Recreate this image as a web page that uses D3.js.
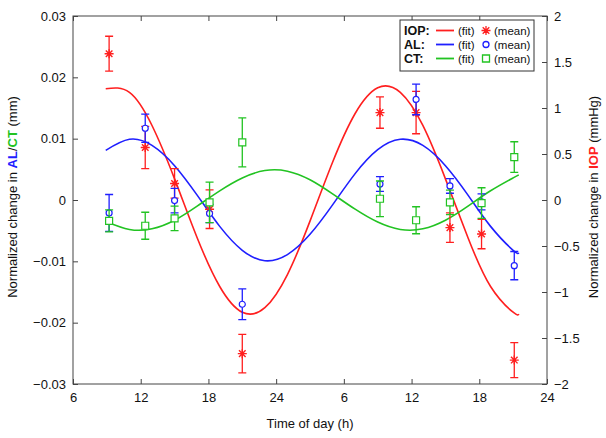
<!DOCTYPE html>
<html><head><meta charset="utf-8">
<script src="https://cdn.jsdelivr.net/npm/d3@7"></script>
<style>
html,body{margin:0;padding:0;background:#fff;}
text{font-family:Arial,"Liberation Sans",Helvetica,sans-serif;}
</style></head>
<body>
<svg id="chart" width="606" height="438"></svg>
<script>
// ---------- data ----------
const xTickValues = [6, 12, 18, 24, 30, 36, 42, 48];
const xTickLabels = ["6", "12", "18", "24", "6", "12", "18", "24"];
const leftTicks = [-0.03, -0.02, -0.01, 0, 0.01, 0.02, 0.03];
const rightTicks = [-2, -1.5, -1, -0.5, 0, 0.5, 1, 1.5, 2];

const hours = [9.2, 12.4, 15.0, 18.1, 21.0, 33.2, 36.4, 39.4, 42.2, 45.1];
const iopMean = [1.59, 0.57, 0.18, -0.10, -1.67, 0.95, 0.95, -0.30, -0.37, -1.74];
const iopErr  = [0.19, 0.23, 0.16, 0.21, 0.21, 0.17, 0.23, 0.16, 0.16, 0.19];
const alMean  = [-0.0021, 0.0117, -0.0001, -0.0022, -0.0170, 0.0026, 0.0164, 0.0023, -0.0003, -0.0107];
const alErr   = [0.0030, 0.0023, 0.0020, 0.0015, 0.0025, 0.0012, 0.0025, 0.0012, 0.0013, 0.0023];
const ctMean  = [-0.0034, -0.0042, -0.0030, -0.0004, 0.0094, 0.0002, -0.0033, -0.0004, -0.0005, 0.0070];
const ctErr   = [0.0018, 0.0022, 0.0020, 0.0033, 0.0040, 0.0029, 0.0022, 0.0020, 0.0025, 0.0025];

const fitHours = [8.9, 11, 13, 15, 17, 19, 21, 23, 25, 27, 29, 31, 33, 35, 37, 39, 41, 43, 45, 45.5];
const iopFit = [1.21, 1.17, 0.81, 0.23, -0.41, -0.94, -1.22, -1.17, -0.81, -0.23, 0.41, 0.94, 1.22, 1.17, 0.81, 0.23, -0.41, -0.94, -1.22, -1.24];
const alFit  = [0.0081, 0.0099, 0.0089, 0.0056, 0.0008, -0.0043, -0.0082, -0.0099, -0.0089, -0.0056, -0.0008, 0.0043, 0.0082, 0.0099, 0.0089, 0.0056, 0.0008, -0.0043, -0.0082, -0.0086];
const ctFit  = [-0.0035, -0.0048, -0.0047, -0.0033, -0.0010, 0.0015, 0.0036, 0.0048, 0.0047, 0.0033, 0.0010, -0.0015, -0.0036, -0.0048, -0.0047, -0.0033, -0.0010, 0.0015, 0.0036, 0.0041];

const seriesNames = ["IOP", "AL", "CT"];
const seriesColors = ["#ff1f1f", "#1f1fff", "#22c322"];
const seriesMarkers = ["asterisk", "circle", "square"];

// ---------- layout ----------
const L = 73, R = 547, T = 16, B = 384;
const svg = d3.select("#chart");
svg.append("rect").attr("width", 606).attr("height", 438).attr("fill", "#fff");

const x = d3.scaleLinear().domain([6, 48]).range([L, R]);
const yL = d3.scaleLinear().domain([-0.03, 0.03]).range([B, T]);
const yR = d3.scaleLinear().domain([-2, 2]).range([B, T]);

const axisColor = "#444";
const minusFmt = v => (v < 0 ? "\u2212" : "") + String(Math.abs(v));

// frame
svg.append("rect").attr("x", L).attr("y", T).attr("width", R - L).attr("height", B - T)
  .attr("fill", "none").attr("stroke", axisColor).attr("stroke-width", 1);

function styleAxis(g) {
  g.select(".domain").remove();
  g.selectAll(".tick line").attr("stroke", axisColor);
  g.selectAll(".tick text").attr("fill", "#111").style("font-size", "13px");
}

svg.append("g").attr("transform", `translate(0,${B})`)
  .call(d3.axisBottom(x).tickValues(xTickValues).tickSize(-5).tickPadding(9)
    .tickFormat((d, i) => xTickLabels[i]))
  .call(styleAxis);
svg.append("g").attr("transform", `translate(0,${T})`)
  .call(d3.axisTop(x).tickValues(xTickValues).tickSize(-5).tickFormat(""))
  .call(styleAxis);
svg.append("g").attr("transform", `translate(${L},0)`)
  .call(d3.axisLeft(yL).tickValues(leftTicks).tickSize(-5).tickPadding(7).tickFormat(minusFmt))
  .call(styleAxis);
svg.append("g").attr("transform", `translate(${R},0)`)
  .call(d3.axisRight(yR).tickValues(rightTicks).tickSize(-5).tickPadding(7).tickFormat(minusFmt))
  .call(styleAxis);

// axis titles
svg.append("text").attr("x", 310).attr("y", 428).attr("text-anchor", "middle")
  .style("font-size", "13px").attr("fill", "#111").text("Time of day (h)");

const lt = svg.append("text").attr("transform", "translate(16.5,197) rotate(-90)")
  .attr("text-anchor", "middle").style("font-size", "13px").attr("fill", "#111");
lt.append("tspan").text("Normalized change in ");
lt.append("tspan").attr("font-weight", "bold").attr("fill", seriesColors[1]).text("AL");
lt.append("tspan").text("/");
lt.append("tspan").attr("font-weight", "bold").attr("fill", seriesColors[2]).text("CT");
lt.append("tspan").text(" (mm)");

const rt = svg.append("text").attr("transform", "translate(597.5,197) rotate(-90)")
  .attr("text-anchor", "middle").style("font-size", "13px").attr("fill", "#111");
rt.append("tspan").text("Normalized change in ");
rt.append("tspan").attr("font-weight", "bold").attr("fill", seriesColors[0]).text("IOP");
rt.append("tspan").text(" (mmHg)");

// ---------- series ----------
const series = [
  {fit: iopFit, mean: iopMean, err: iopErr, y: yR},
  {fit: alFit, mean: alMean, err: alErr, y: yL},
  {fit: ctFit, mean: ctMean, err: ctErr, y: yL}
];

function markerPath(type, cx, cy) {
  if (type === "asterisk") {
    const s = 4.5, d = 3.3;
    return `M${cx - s},${cy}L${cx + s},${cy}M${cx},${cy - s}L${cx},${cy + s}` +
      `M${cx - d},${cy - d}L${cx + d},${cy + d}M${cx - d},${cy + d}L${cx + d},${cy - d}`;
  }
  if (type === "square") {
    const s = 3.5;
    return `M${cx - s},${cy - s}h${2 * s}v${2 * s}h${-2 * s}Z`;
  }
  const r = 3;
  return `M${cx + r},${cy}A${r},${r} 0 1,1 ${cx - r},${cy}A${r},${r} 0 1,1 ${cx + r},${cy}Z`;
}

series.forEach((s, k) => {
  const line = d3.line().x((d, i) => x(fitHours[i])).y(d => s.y(d)).curve(d3.curveNatural);
  svg.append("path").datum(s.fit).attr("d", line).attr("fill", "none")
    .attr("stroke", seriesColors[k]).attr("stroke-width", 1.6);
});

series.forEach((s, k) => {
  const g = svg.append("g").attr("stroke", seriesColors[k]).attr("fill", "none").attr("stroke-width", 1.3);
  hours.forEach((h, i) => {
    const cx = x(h), top = s.y(s.mean[i] + s.err[i]), bot = s.y(s.mean[i] - s.err[i]);
    g.append("path").attr("d", `M${cx},${top}V${bot}M${cx - 4},${top}H${cx + 4}M${cx - 4},${bot}H${cx + 4}`);
    g.append("path").attr("d", markerPath(seriesMarkers[k], cx, s.y(s.mean[i])))
      .attr("fill", "#fff").attr("stroke-width", seriesMarkers[k] === "asterisk" ? 1.4 : 1.2);
  });
});

// ---------- legend ----------
const lg = svg.append("g");
lg.append("rect").attr("x", 400).attr("y", 20).attr("width", 134).attr("height", 51)
  .attr("fill", "#fff").attr("stroke", "#333").attr("stroke-width", 1);
seriesNames.forEach((name, k) => {
  const cy = 30.5 + k * 14;
  lg.append("text").attr("x", 404).attr("y", cy + 4.5).style("font-size", "12.5px")
    .attr("font-weight", "bold").attr("fill", "#111").text(name + ":");
  lg.append("line").attr("x1", 436).attr("x2", 454).attr("y1", cy).attr("y2", cy)
    .attr("stroke", seriesColors[k]).attr("stroke-width", 1.8);
  lg.append("text").attr("x", 458).attr("y", cy + 4).style("font-size", "11.5px")
    .attr("fill", "#111").text("(fit)");
  lg.append("path").attr("d", markerPath(seriesMarkers[k], 486, cy))
    .attr("fill", "none").attr("stroke", seriesColors[k]).attr("stroke-width", 1.3);
  lg.append("text").attr("x", 494).attr("y", cy + 4).style("font-size", "11.5px")
    .attr("fill", "#111").text("(mean)");
});
</script>
</body></html>
